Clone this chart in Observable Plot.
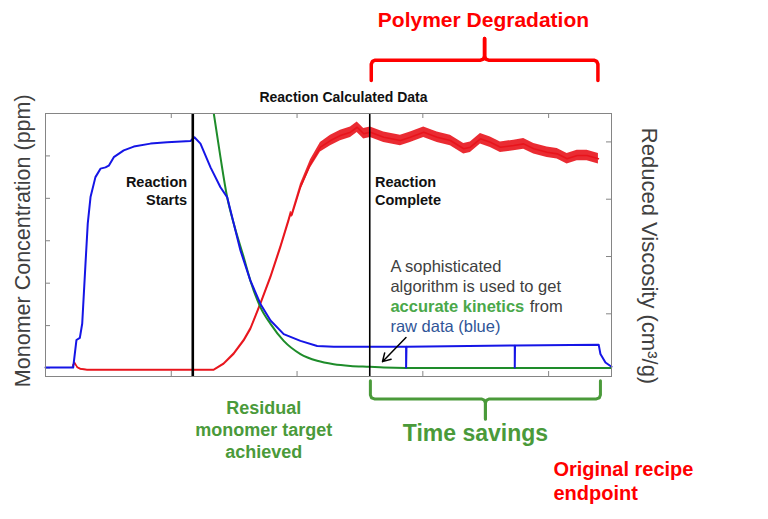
<!DOCTYPE html>
<html><head><meta charset="utf-8">
<script src="https://cdn.jsdelivr.net/npm/d3@7"></script>
<script src="https://cdn.jsdelivr.net/npm/@observablehq/plot@0.6"></script>
<style>html,body{margin:0;padding:0;background:#fff;} #chart{width:768px;height:519px;}</style>
</head><body><div id="chart"></div>
<script>
// ---- data (time in h, monomer in ppm, viscosity in cm3/g) ----
const blueTime = [0,0.22,0.246,0.273,0.292,0.318,0.336,0.358,0.397,0.437,0.477,0.503,0.543,0.622,0.702,0.835,0.967,1.153,1.184,1.232,1.312,1.391,1.444,1.497,1.550,1.629,1.709,1.789,1.894,2.027,2.160,2.292,2.867,2.867,2.870,3.731,3.731,3.733,4.398,4.412,4.452,4.5];
const blueMonomer = [1,1,66,71,105,246,341,403,450,470,473,477,497,513,522,529,532,535,544,529,473,426,403,340,277,206,151,112,80,64,52,50,50,1,50,53,1,53,55,33,13,3];
const greenTime = [1.338,1.391,1.444,1.497,1.576,1.629,1.709,1.789,1.894,2.027,2.160,2.292,2.424,2.578,2.689,3.034,4.5];
const greenMonomer = [600,497,403,340,261,206,143,104,64,33,17,9,5,3,1.4,0,0];
const redTime = [0.215,0.231,0.252,0.278,0.331,1.338,1.417,1.497,1.576,1.630,1.709,1.789,1.868,1.932,1.948,1.959,2.027,2.107,2.186,2.266,2.345,2.425,2.478,2.530,2.583,2.689,2.822,2.901,3.007,3.114,3.219,3.325,3.378,3.458,3.537,3.617,3.723,3.802,3.882,3.988,4.068,4.147,4.227,4.306,4.396];
const redViscosity = [0.040,0.075,0.034,0.018,0.011,0.011,0.064,0.151,0.267,0.369,0.587,0.819,1.081,1.31,1.372,1.362,1.605,1.809,1.954,2.012,2.056,2.085,2.128,2.071,2.085,2.041,2.012,2.041,2.085,2.041,2.012,1.940,1.954,2.027,1.997,1.954,1.969,1.983,1.940,1.910,1.896,1.853,1.881,1.881,1.853];
const redNoise = [0.006,0.006,0.006,0.006,0.005,0.005,0.007,0.009,0.011,0.013,0.015,0.018,0.02,0.022,0.022,0.022,0.028,0.036,0.042,0.046,0.046,0.046,0.046,0.046,0.046,0.046,0.046,0.046,0.046,0.046,0.046,0.046,0.046,0.046,0.046,0.046,0.046,0.046,0.046,0.046,0.046,0.046,0.046,0.046,0.046];
const timeTicks = [1, 2, 3, 4];
const monomerTicks = [0, 100, 200, 300, 400, 500];
const viscosityTicks = [0.5, 1.0, 1.5, 2.0];
const timeDomain = [0, 4.5];
const monomerDomain = [-20, 600];
const viscosityDomain = [-0.047, 2.248];
const reactionStart = 1.171;
const reactionComplete = 2.578;
const degradationSpan = [2.59, 4.392];
const savingsSpan = [2.583, 4.412];

// ---- annotation layout (data coordinates) ----
const labels = [
  {x: 2.369, y: 628, text: "Reaction Calculated Data", size: 14, weight: "bold", fill: "#111", anchor: "middle"},
  {x: 1.126, y: 384, text: "Reaction\nStarts", size: 14.5, weight: "bold", fill: "#111", anchor: "end"},
  {x: 2.619, y: 384, text: "Reaction\nComplete", size: 14.5, weight: "bold", fill: "#111", anchor: "start"},
  {x: 2.742, y: 180, text: "A sophisticated\nalgorithm is used to get", size: 16.5, weight: "normal", fill: "#404040", anchor: "start"},
  {x: 2.742, y: 133, text: "accurate kinetics", size: 16.5, weight: "bold", fill: "#4aa84a", anchor: "start"},
  {x: 3.850, y: 133, text: "from", size: 16.5, weight: "normal", fill: "#404040", anchor: "start"},
  {x: 2.742, y: 86, text: "raw data (blue)", size: 16.5, weight: "normal", fill: "#2f5597", anchor: "start"},
  {x: 3.482, y: 804, text: "Polymer Degradation", size: 21, weight: "bold", fill: "#ff0000", anchor: "middle"},
  {x: 1.735, y: -212, text: "Residual\nmonomer target\nachieved", size: 18, weight: "bold", fill: "#4a9a3a", anchor: "middle"},
  {x: 3.418, y: -172, text: "Time savings", size: 23, weight: "bold", fill: "#4a9a3a", anchor: "middle"},
  {x: 4.038, y: -311, text: "Original recipe\nendpoint", size: 20, weight: "bold", fill: "#ff0000", anchor: "start"}
];
const pointer = [{x1: 2.866, y1: 72, x2: 2.679, y2: 15}];

const toPpm = d3.scaleLinear().domain(viscosityDomain).range(monomerDomain);
const blue = blueTime.map((t, i) => ({t, v: blueMonomer[i]}));
const green = greenTime.map((t, i) => ({t, v: greenMonomer[i]}));
const red = redTime.map((t, i) => ({t, v: toPpm(redViscosity[i]), lo: toPpm(redViscosity[i] - redNoise[i]), hi: toPpm(redViscosity[i] + redNoise[i])}));

function brace(span, yEnd, yBar, yTip) {
  const [a, b] = span, c = (a + b) / 2, rx = 0.032, ry = 9.4, s = Math.sign(yTip - yBar);
  const half = (e, d, side) => [
    [e, yEnd], [e, yBar - s * ry], [e + d * rx * 0.29, yBar - s * ry * 0.29], [e + d * rx, yBar],
    [c - d * rx, yBar], [c - d * rx * 0.29, yBar + s * ry * 0.29], [c, yBar + s * ry], [c, yTip]
  ].map(([x, y]) => ({x, y, side}));
  return [...half(a, 1, "L"), ...half(b, -1, "R")];
}

const gray = "#858585";
const textMarks = labels.map(l => Plot.text([l], {
  x: "x", y: "y", text: "text", fontSize: l.size, fontWeight: l.weight, fill: l.fill,
  textAnchor: l.anchor, lineAnchor: "bottom", lineHeight: 1.22
}));

const chart = Plot.plot({
  width: 768, height: 519,
  marginLeft: 45, marginRight: 157, marginTop: 113, marginBottom: 143,
  x: {domain: timeDomain, axis: null},
  y: {domain: monomerDomain, axis: null},
  style: {fontFamily: "'Liberation Sans', Arial, sans-serif", background: "#fff", overflow: "visible"},
  marks: [
    Plot.ruleX(timeTicks, {stroke: gray, insetTop: 258}),
    Plot.ruleX(timeTicks, {stroke: gray, insetBottom: 258}),
    Plot.ruleY(monomerTicks, {stroke: gray, insetRight: 561}),
    Plot.ruleY(viscosityTicks, {y: d => toPpm(d), stroke: gray, insetLeft: 561}),
    Plot.areaY(red, {x: "t", y1: "lo", y2: "hi", fill: "#e8141c", fillOpacity: 0.9}),
    Plot.line(red, {x: "t", y: "v", stroke: "#e8141c", strokeWidth: 1.6}),
    Plot.line(green, {x: "t", y: "v", stroke: "#1e8c2a", strokeWidth: 2, curve: "monotone-x", clip: true}),
    Plot.line(blue, {x: "t", y: "v", stroke: "#1515e6", strokeWidth: 2}),
    Plot.ruleX([reactionStart], {stroke: "#000", strokeWidth: 2.6}),
    Plot.ruleX([reactionComplete], {stroke: "#000", strokeWidth: 1.6}),
    Plot.frame({stroke: gray}),
    Plot.arrow(pointer, {x1: "x1", y1: "y1", x2: "x2", y2: "y2", stroke: "#000", strokeWidth: 1.5, headLength: 9}),
    Plot.line(brace(degradationSpan, 678, 725.6, 777), {x: "x", y: "y", z: "side", stroke: "#ff0000", strokeWidth: 3.5, strokeLinejoin: "round"}),
    Plot.line(brace(savingsSpan, -30, -73, -120), {x: "x", y: "y", z: "side", stroke: "#4a9a3a", strokeWidth: 3, strokeLinejoin: "round"}),
    ...textMarks,
    Plot.text(["Monomer Concentration (ppm)"], {x: () => -0.127, y: () => 300, rotate: -90, fontSize: 21.5, fill: "#404040", textAnchor: "middle", lineAnchor: "bottom"}),
    Plot.text(["Reduced Viscosity (cm³/g)"], {x: () => 4.742, y: () => 264, rotate: 90, fontSize: 22, fill: "#404040", textAnchor: "middle", lineAnchor: "bottom"})
  ]
});
document.getElementById("chart").appendChild(chart);
</script>
</body></html>
